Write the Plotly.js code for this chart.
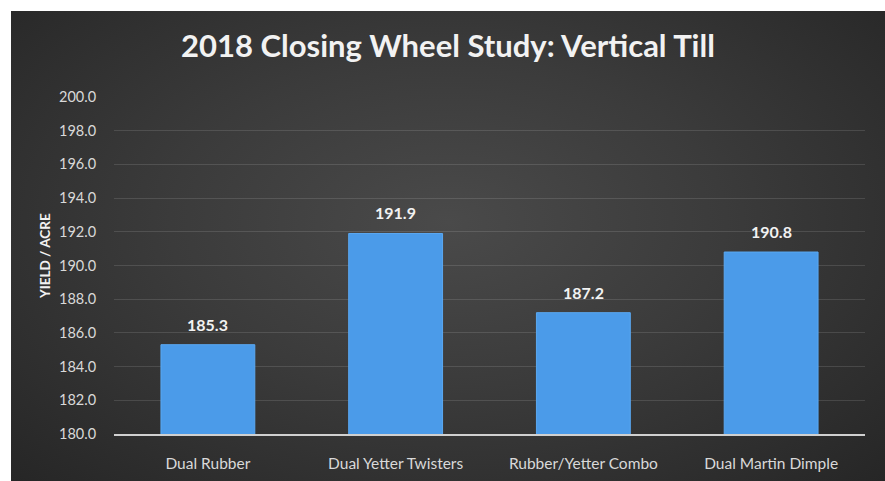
<!DOCTYPE html>
<html>
<head>
<meta charset="utf-8">
<script src="https://cdn.plot.ly/plotly-3.0.1.min.js"></script>
<style>
  html, body { margin: 0; padding: 0; background: #ffffff; }
  #chart {
    position: absolute; left: 11px; top: 11px; width: 874px; height: 470px;
    background: radial-gradient(ellipse at 50% 45%, #4a4a4a 0%, #3b3b3b 45%, #262626 100%);
  }
</style>
</head>
<body>
<div id="chart"></div>
<script>
// closing wheel types
var wheels = ['Dual Rubber', 'Dual Yetter Twisters', 'Rubber/Yetter Combo', 'Dual Martin Dimple'];
var yieldAcre = [185.3, 191.9, 187.2, 190.8];

var trace = {
  x: wheels,
  y: yieldAcre,
  type: 'bar',
  width: 0.5,
  marker: {color: '#4b9be9', line: {color: '#5aa8f2', width: 1}},
  hoverinfo: 'none'
};

// value labels above bars
var labels = wheels.map(function (w, i) {
  return {
    x: w, y: yieldAcre[i], xref: 'x', yref: 'y',
    text: '<b>' + yieldAcre[i].toFixed(1) + '</b>',
    showarrow: false, yanchor: 'bottom', yshift: 9,
    font: {family: 'Lato', size: 16, color: '#f2f2f2'}
  };
});
labels.push({
  text: '<b>YIELD / ACRE</b>', xref: 'paper', yref: 'paper',
  x: -0.092, y: 0.528, xanchor: 'center', yanchor: 'middle',
  textangle: -90, showarrow: false,
  font: {family: 'Lato', size: 13.5, color: '#f2f2f2'}
});

var layout = {
  width: 874,
  height: 470,
  paper_bgcolor: 'rgba(0,0,0,0)',
  plot_bgcolor: 'rgba(0,0,0,0)',
  margin: {l: 103, r: 20, t: 86, b: 47},
  font: {family: 'Lato', color: '#d9d9d9'},
  title: {
    text: '<b>2018 Closing Wheel Study: Vertical Till</b>',
    font: {family: 'Lato', size: 31, color: '#f2f2f2'},
    x: 0.5, xanchor: 'center', y: 0.925, yanchor: 'middle'
  },
  xaxis: {
    showgrid: false,
    showline: true, linecolor: '#d0d0d0', linewidth: 2,
    tickfont: {size: 15.5, color: '#d9d9d9'},
    ticks: 'outside', ticklen: 14, tickcolor: 'rgba(0,0,0,0)'
  },
  yaxis: {
    range: [180, 200],
    dtick: 2,
    tickformat: '.1f',
    gridcolor: 'rgba(255,255,255,0.12)',
    gridwidth: 1,
    zeroline: false,
    tickfont: {size: 14.5, color: '#d9d9d9'},
    ticks: 'outside', ticklen: 14, tickcolor: 'rgba(0,0,0,0)'
  },
  annotations: labels,
  showlegend: false
};

Plotly.newPlot('chart', [trace], layout, {displayModeBar: false, staticPlot: true});
</script>
</body>
</html>
